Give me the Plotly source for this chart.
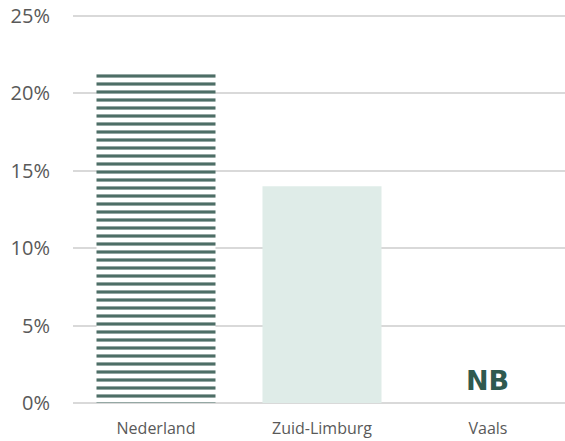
import plotly.graph_objects as go

categories = ["Nederland", "Zuid-Limburg", "Vaals"]
values = [21.3, 14.0, None]
na_label = "NB"
y_ticks = [0, 5, 10, 15, 20, 25]
y_tick_labels = ["0%", "5%", "10%", "15%", "20%", "25%"]

fig = go.Figure()
fig.add_trace(go.Bar(
    x=[categories[0]], y=[values[0]], width=0.717,
    marker=dict(color="white", line=dict(width=0),
                pattern=dict(shape="-", size=8, solidity=0.4,
                             fgcolor="#4d6e66", bgcolor="white", fillmode="replace")),
    showlegend=False, hoverinfo="skip"))
fig.add_trace(go.Bar(
    x=categories[1:], y=values[1:], width=0.717,
    marker=dict(color="#dfece8", line=dict(width=0)),
    showlegend=False, hoverinfo="skip"))

fig.add_annotation(x=categories[2], y=0, text="<b>" + na_label + "</b>", showarrow=False,
                   yanchor="bottom", yshift=5,
                   font=dict(family="DejaVu Sans", size=27, color="#2f5a50"))

fig.update_layout(
    width=565, height=441,
    margin=dict(l=73, r=0, t=8, b=38, autoexpand=False),
    paper_bgcolor="white", plot_bgcolor="white",
    barmode="overlay",
    font=dict(family="Open Sans", color="#595959"),
    xaxis=dict(categoryorder="array", categoryarray=categories, range=[-0.5, 2.464],
               tickfont=dict(size=16, color="#595959"), showgrid=False,
               showline=False, ticks="outside", ticklen=11, tickcolor="rgba(0,0,0,0)",
               automargin=False),
    yaxis=dict(range=[0, 25.5], tickmode="array", tickvals=y_ticks, ticktext=y_tick_labels,
               tickfont=dict(size=20, color="#595959"),
               showgrid=True, gridcolor="#d9d9d9", gridwidth=1.5,
               zeroline=True, zerolinecolor="#d9d9d9", zerolinewidth=1.5,
               ticks="outside", ticklen=18, tickcolor="rgba(0,0,0,0)", automargin=False),
)

fig.write_html("out.html", config={"displayModeBar": False},
               post_script="document.body.style.margin='0';")
